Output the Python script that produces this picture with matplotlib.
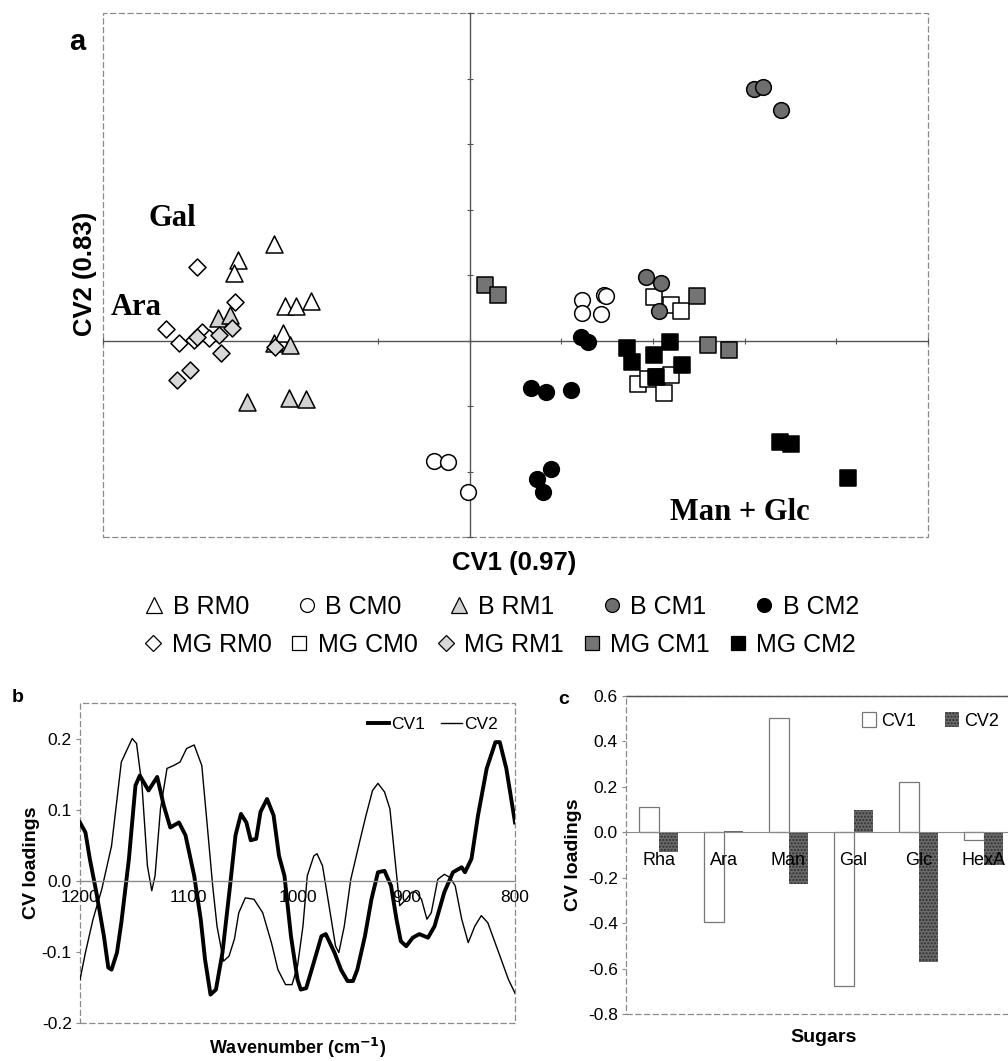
import matplotlib
matplotlib.use('Agg')
import matplotlib.pyplot as plt
from matplotlib.lines import Line2D
from matplotlib.patches import Rectangle, Patch

plt.rcParams['font.family'] = ['Liberation Sans', 'DejaVu Sans']

# ---------------- Panel a data (CV1, CV2 scores) ----------------
b_rm0_x = [-2.13, -2.53, -2.57, -2.02, -1.90, -1.73, -2.04]
b_rm0_y = [1.47, 1.23, 1.03, 0.53, 0.53, 0.60, 0.11]
b_rm1_x = [-2.75, -2.61, -2.13, -1.96, -2.43, -1.97, -1.79]
b_rm1_y = [0.34, 0.39, -0.04, -0.07, -0.94, -0.88, -0.89]
b_cm0_x = [-0.39, -0.24, -0.02, 1.23, 1.23, 1.47, 1.43, 1.49]
b_cm0_y = [-1.84, -1.85, -2.31, 0.62, 0.42, 0.69, 0.40, 0.68]
b_cm1_x = [1.92, 2.09, 2.06, 3.10, 3.20, 3.40]
b_cm1_y = [0.97, 0.88, 0.45, 3.84, 3.87, 3.52]
b_cm2_x = [1.21, 1.29, 0.67, 0.83, 1.11, 0.89, 0.73, 0.80]
b_cm2_y = [0.05, -0.02, -0.73, -0.79, -0.76, -1.96, -2.11, -2.31]
mg_rm0_x = [-2.97, -2.56, -3.31, -3.17, -3.01, -2.92, -2.84]
mg_rm0_y = [1.12, 0.59, 0.18, -0.04, 0.01, 0.13, 0.04]
mg_rm1_x = [-2.73, -2.59, -2.71, -3.05, -3.19, -2.12, -2.98]
mg_rm1_y = [0.08, 0.19, -0.19, -0.45, -0.60, -0.10, 0.05]
mg_cm0_x = [2.01, 2.20, 2.31, 1.84, 1.94, 2.04, 2.20, 2.12]
mg_cm0_y = [0.66, 0.54, 0.45, -0.66, -0.59, -0.56, -0.53, -0.80]
mg_cm1_x = [0.17, 0.31, 2.48, 2.60, 2.83]
mg_cm1_y = [0.85, 0.69, 0.68, -0.07, -0.15]
mg_cm2_x = [1.72, 1.77, 2.01, 2.18, 2.32, 2.03, 3.38, 3.51, 4.13]
mg_cm2_y = [-0.11, -0.33, -0.22, -0.02, -0.37, -0.56, -1.55, -1.58, -2.10]

# ---------------- Panel b data (spectral loadings) ----------------
cv1_wn = [1200, 1195, 1191, 1185, 1178, 1174, 1171, 1166, 1162, 1155, 1149, 1145,
          1137, 1129, 1123, 1117, 1109, 1103, 1095, 1089, 1085, 1080, 1075, 1069,
          1062, 1057, 1052, 1047, 1043, 1038, 1034, 1028, 1022, 1017, 1012, 1006,
          1000, 997, 992, 986, 978, 974, 966, 960, 954, 949, 945, 938, 932, 926,
          920, 914, 909, 905, 900, 894, 888, 880, 874, 865, 857, 849, 846, 840,
          834, 826, 818, 814, 808, 800]
cv1_val = [0.082, 0.068, 0.031, -0.016, -0.078, -0.122, -0.125, -0.101, -0.059, 0.031,
           0.134, 0.148, 0.127, 0.146, 0.106, 0.075, 0.082, 0.064, 0.007, -0.054,
           -0.111, -0.160, -0.153, -0.101, -0.007, 0.064, 0.094, 0.082, 0.057, 0.059,
           0.097, 0.115, 0.092, 0.035, 0.007, -0.078, -0.139, -0.153, -0.151, -0.120,
           -0.078, -0.075, -0.101, -0.125, -0.141, -0.141, -0.125, -0.078, -0.026,
           0.012, 0.014, -0.007, -0.054, -0.085, -0.092, -0.080, -0.075, -0.080,
           -0.064, -0.016, 0.012, 0.019, 0.012, 0.031, 0.092, 0.158, 0.195, 0.195,
           0.158, 0.082]
cv2_wn = [1200, 1195, 1188, 1180, 1171, 1162, 1152, 1148, 1143, 1138, 1134, 1131,
          1126, 1120, 1114, 1108, 1102, 1095, 1088, 1083, 1078, 1074, 1068, 1063,
          1058, 1054, 1048, 1040, 1032, 1024, 1018, 1011, 1005, 1000, 995, 991,
          985, 982, 977, 971, 965, 962, 957, 951, 943, 937, 931, 926, 920, 915,
          911, 906, 900, 895, 891, 886, 881, 877, 871, 865, 860, 855, 849, 843,
          837, 831, 825, 815, 806, 800]
cv2_val = [-0.139, -0.101, -0.054, -0.012, 0.049, 0.167, 0.200, 0.193, 0.134, 0.021,
           -0.014, 0.007, 0.101, 0.158, 0.162, 0.167, 0.186, 0.191, 0.162, 0.078,
           -0.007, -0.064, -0.113, -0.106, -0.082, -0.045, -0.024, -0.026, -0.045,
           -0.087, -0.125, -0.146, -0.146, -0.120, -0.064, 0.007, 0.035, 0.038,
           0.021, -0.035, -0.092, -0.101, -0.064, 0.002, 0.054, 0.092, 0.127, 0.137,
           0.125, 0.101, 0.040, -0.035, -0.026, -0.016, -0.016, -0.026, -0.054,
           -0.045, 0.002, 0.009, 0.005, -0.007, -0.054, -0.087, -0.064, -0.049,
           -0.059, -0.101, -0.139, -0.158]

# ---------------- Panel c data (sugar loadings) ----------------
sugars = ['Rha', 'Ara', 'Man', 'Gal', 'Glc', 'HexA']
sugar_cv1 = [0.113, -0.397, 0.504, -0.675, 0.222, -0.035]
sugar_cv2 = [-0.088, 0.007, -0.228, 0.096, -0.571, -0.146]

W, H = 1008, 1061
fig = plt.figure(figsize=(W / 100, H / 100), dpi=100)


def fx(px):
    return px / W


def fy(py):
    return 1 - py / H


frame_style = dict(fill=False, ec='#8a8a8a', ls=(0, (5, 2)), lw=0.9, clip_on=False)

# ================= Panel a =================
axa = fig.add_axes([fx(103), fy(537), fx(928) - fx(103), fy(13) - fy(537)])
axa.set_xlim(-4, 5)
axa.set_ylim(-3, 5)
for s in ['top', 'right']:
    axa.spines[s].set_visible(False)
axa.spines['left'].set_position('zero')
axa.spines['bottom'].set_position('zero')
for s in ['left', 'bottom']:
    axa.spines[s].set_color('#555555')
    axa.spines[s].set_linewidth(1.0)
axa.set_xticks(range(-4, 6))
axa.set_yticks(range(-3, 6))
axa.tick_params(labelbottom=False, labelleft=False, length=5, width=0.8,
                color='#555555', direction='inout')
axa.add_patch(Rectangle((0, 0), 1, 1, transform=axa.transAxes, **frame_style))

ms_c = 128
ms_s = 128
ms_t = 150
ms_d = 75
ew = 1.1
styles = [
    (b_rm0_x, b_rm0_y, '^', 'white', ms_t),
    (b_rm1_x, b_rm1_y, '^', '#d2d2d2', ms_t),
    (mg_rm0_x, mg_rm0_y, 'D', 'white', ms_d),
    (mg_rm1_x, mg_rm1_y, 'D', '#d8d8d8', ms_d),
    (b_cm0_x, b_cm0_y, 'o', 'white', ms_c),
    (mg_cm0_x, mg_cm0_y, 's', 'white', ms_s),
    (b_cm1_x, b_cm1_y, 'o', '#6e6e6e', ms_c),
    (mg_cm1_x, mg_cm1_y, 's', '#747474', ms_s),
    (b_cm2_x, b_cm2_y, 'o', 'black', ms_c),
    (mg_cm2_x, mg_cm2_y, 's', 'black', ms_s),
]
for xs, ys, m, fc, sz in styles:
    axa.scatter(xs, ys, marker=m, s=sz, facecolor=fc, edgecolor='black',
                linewidth=ew, zorder=3)

tfont = dict(family=['Liberation Serif', 'DejaVu Serif'], fontweight='bold', fontsize=22)
axa.text(-3.24, 1.87, 'Gal', ha='center', va='center', **tfont)
axa.text(-3.64, 0.50, 'Ara', ha='center', va='center', **tfont)
axa.text(2.95, -2.62, 'Man + Glc', ha='center', va='center', **tfont)

fig.text(fx(77), fy(42), 'a', fontsize=21, fontweight='bold', ha='center', va='center')
fig.text(fx(85), fy(274), 'CV2 (0.83)', rotation=90, fontsize=18.5, fontweight='bold',
         ha='center', va='center')
fig.text(fx(514), fy(563), 'CV1 (0.97)', fontsize=18.5, fontweight='bold',
         ha='center', va='center')

# legend rows for panel a


def h(m, fc, size=10):
    return Line2D([], [], ls='none', marker=m, markersize=size, markerfacecolor=fc,
                  markeredgecolor='black', markeredgewidth=0.9)


row1 = [h('^', 'white', 11), h('o', 'white'), h('^', '#d2d2d2', 11),
        h('o', '#6e6e6e'), h('o', 'black')]
lab1 = ['B RM0', 'B CM0', 'B RM1', 'B CM1', 'B CM2']
row2 = [h('D', 'white', 8), h('s', 'white'), h('D', '#d8d8d8', 8),
        h('s', '#747474'), h('s', 'black')]
lab2 = ['MG RM0', 'MG CM0', 'MG RM1', 'MG CM1', 'MG CM2']
legkw = dict(ncol=5, frameon=False, handlelength=0.9, handletextpad=0.3,
             loc='center', borderaxespad=0, borderpad=0,
             prop=dict(size=18))
fig.legend(row1, lab1, bbox_to_anchor=(fx(501), fy(607)), columnspacing=1.85, **legkw)
fig.legend(row2, lab2, bbox_to_anchor=(fx(499), fy(645)), columnspacing=0.65, **legkw)

# ================= Panel b =================
axb = fig.add_axes([fx(80), fy(1023), fx(515) - fx(80), fy(703) - fy(1023)])
axb.plot(cv1_wn, cv1_val, color='black', lw=2.8, label='CV1', solid_joinstyle='round')
axb.plot(cv2_wn, cv2_val, color='black', lw=1.0, label='CV2')
axb.set_xlim(1200, 800)
axb.set_ylim(-0.2, 0.25)
axb.set_xticks([1200, 1100, 1000, 900, 800])
axb.set_yticks([-0.2, -0.1, 0.0, 0.1, 0.2])
axb.set_yticklabels(['-0.2', '-0.1', '0.0', '0.1', '0.2'])
for s in ['top', 'right', 'left']:
    axb.spines[s].set_visible(False)
axb.spines['bottom'].set_position(('data', 0))
axb.spines['bottom'].set_color('#8a8a8a')
axb.spines['bottom'].set_linewidth(1.0)
axb.tick_params(axis='x', length=0, pad=7, labelsize=12.5)
axb.tick_params(axis='y', length=3, color='#8a8a8a', labelsize=12.5, pad=3)
axb.add_patch(Rectangle((0, 0), 1, 1, transform=axb.transAxes, **frame_style))
axb.set_ylabel('CV loadings', fontsize=14, fontweight='bold', labelpad=1)
fig.text(fx(298), fy(1048), 'Wavenumber (cm$^{\\mathbf{-1}}$)', fontsize=13,
         fontweight='bold', ha='center', va='center')
fig.text(fx(18), fy(698), 'b', fontsize=14, fontweight='bold', ha='center', va='center')
axb.legend(loc='upper right', ncol=2, frameon=False, handlelength=1.2,
           handletextpad=0.15, columnspacing=0.9, fontsize=12.5,
           bbox_to_anchor=(0.985, 0.99), borderaxespad=0.2)

# ================= Panel c =================
axc = fig.add_axes([fx(626), fy(1014), 390 / W, fy(696) - fy(1014)])
pos = list(range(len(sugars)))
bw = 0.3
axc.bar([p - bw / 2 for p in pos], sugar_cv1, width=bw, facecolor='white',
        edgecolor='#777777', linewidth=0.9, label='CV1', zorder=1)
axc.bar([p + bw / 2 for p in pos], sugar_cv2, width=bw, facecolor='#6a6a6a',
        edgecolor='#2e2e2e', hatch='.....', linewidth=0.0, label='CV2', zorder=1)
axc.set_axisbelow(False)
axc.set_xlim(-0.5, len(sugars) - 0.5)
axc.set_ylim(-0.8, 0.6)
axc.set_yticks([-0.8, -0.6, -0.4, -0.2, 0.0, 0.2, 0.4, 0.6])
axc.set_yticklabels(['-0.8', '-0.6', '-0.4', '-0.2', '0.0', '0.2', '0.4', '0.6'])
axc.set_xticks(pos)
axc.set_xticklabels(sugars)
axc.xaxis.set_zorder(5)
for s in ['top', 'right', 'left']:
    axc.spines[s].set_visible(False)
axc.spines['bottom'].set_position(('data', 0))
axc.spines['bottom'].set_color('#8a8a8a')
axc.spines['bottom'].set_zorder(3)
axc.tick_params(axis='x', length=0, pad=14, labelsize=13)
axc.tick_params(axis='y', length=3, color='#8a8a8a', labelsize=12.5, pad=3)
axc.add_patch(Rectangle((0, 0), 1, 1, transform=axc.transAxes, **frame_style))
axc.plot([0, 1], [1, 1], transform=axc.transAxes, color='#555555', lw=1.0, clip_on=False)
axc.set_ylabel('CV loadings', fontsize=14, fontweight='bold', labelpad=4)
fig.text(fx(824), fy(1037), 'Sugars', fontsize=14, fontweight='bold', ha='center', va='center')
fig.text(fx(564), fy(699), 'c', fontsize=14, fontweight='bold', ha='center', va='center')
hc = [Patch(facecolor='white', edgecolor='#777777', lw=0.9),
      Patch(facecolor='#6a6a6a', edgecolor='#2e2e2e', hatch='.....', lw=0)]
fig.legend(hc, ['CV1', 'CV2'], ncol=2, frameon=False, loc='center left',
           bbox_to_anchor=(fx(862), fy(721)), handlelength=0.8, handleheight=0.9,
           handletextpad=0.25, columnspacing=1.6, fontsize=13, borderaxespad=0,
           borderpad=0)

fig.savefig('out.png', dpi=100)
